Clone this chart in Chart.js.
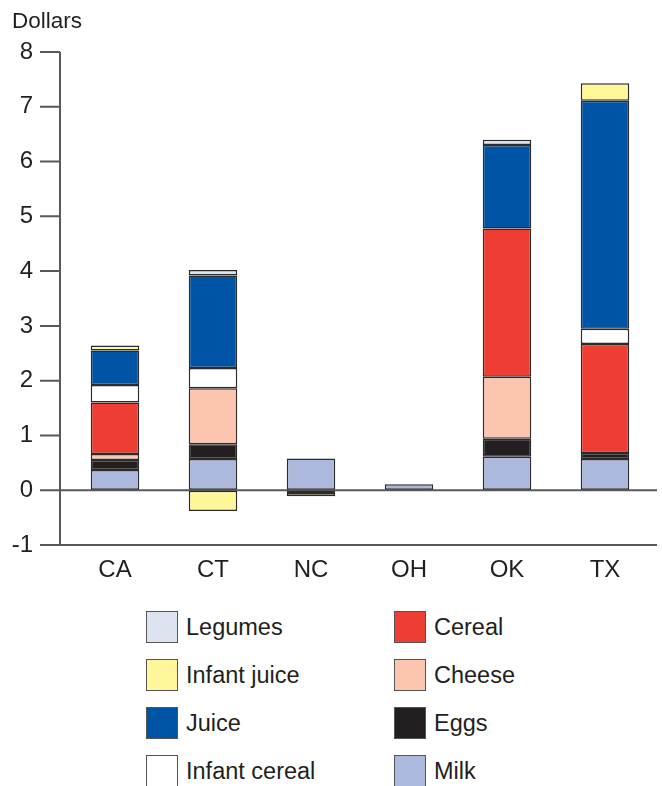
<!DOCTYPE html>
<html>
<head>
<meta charset="utf-8">
<script src="https://cdn.jsdelivr.net/npm/chart.js@4"></script>
<style>
  body { margin: 0; background: #fff; font-family: "Liberation Sans", Arial, sans-serif; }
  #wrap { position: relative; width: 662px; height: 786px; overflow: hidden; }
  #chart { position: absolute; left: 0; top: 0; }
  .key { position: absolute; display: flex; align-items: center; font-size: 23.5px; color: #231f20; }
  .key i { display: inline-block; width: 30px; height: 30px; border: 1.5px solid #555; margin-right: 8px; }
</style>
</head>
<body>
<div id="wrap">
  <canvas id="chart" width="662" height="600"></canvas>
  <div id="legend"></div>
</div>
<script>
// values, dollars per state
const states = ['CA', 'CT', 'NC', 'OH', 'OK', 'TX'];
const milk = [0.37, 0.57, 0.58, 0.11, 0.61, 0.57];
const eggs = [0.18, 0.27, null, null, 0.33, 0.11];
const cheese = [0.11, 1.02, -0.05, null, 1.13, null];
const cereal = [0.94, null, null, null, 2.71, 1.99];
const infantCereal = [0.32, 0.37, null, null, null, 0.28];
const juice = [0.63, 1.69, null, null, 1.52, 4.16];
const infantJuice = [0.09, -0.38, -0.06, null, null, 0.32];
const legumes = [null, 0.10, null, null, 0.10, null];
const yTicks = [-1, 0, 1, 2, 3, 4, 5, 6, 7, 8];

// bottom of the stack first
const series = [
    { label: 'Milk', data: milk, color: '#adb9dc' },
    { label: 'Eggs', data: eggs, color: '#231f20' },
    { label: 'Cheese', data: cheese, color: '#fcc5b0' },
    { label: 'Cereal', data: cereal, color: '#ee3e33' },
    { label: 'Infant cereal', data: infantCereal, color: '#ffffff' },
    { label: 'Juice', data: juice, color: '#0054a6' },
    { label: 'Infant juice', data: infantJuice, color: '#fff799' },
    { label: 'Legumes', data: legumes, color: '#dde3ef' }
];

const FONT = '"Liberation Sans", Arial, sans-serif';

const axesPlugin = {
    id: 'axes',
    beforeDatasetsDraw(chart) {
        const ctx = chart.ctx;
        const y = chart.scales.y;
        const left = 60, right = 657;
        ctx.save();
        ctx.strokeStyle = '#58595b';
        ctx.lineWidth = 2;
        ctx.beginPath();
        ctx.moveTo(left, y.getPixelForValue(8));
        ctx.lineTo(left, y.getPixelForValue(-1));
        ctx.lineTo(right, y.getPixelForValue(-1));
        ctx.moveTo(left, y.getPixelForValue(0));
        ctx.lineTo(right, y.getPixelForValue(0));
        yTicks.forEach(v => {
            const py = y.getPixelForValue(v);
            ctx.moveTo(40, py);
            ctx.lineTo(left, py);
        });
        ctx.stroke();
        ctx.fillStyle = '#231f20';
        ctx.font = '22.5px ' + FONT;
        ctx.textBaseline = 'alphabetic';
        ctx.fillText('Dollars', 12, 28);
        ctx.restore();
    }
};

new Chart(document.getElementById('chart'), {
    type: 'bar',
    data: {
        labels: states,
        datasets: series.map(s => ({
            label: s.label,
            data: s.data,
            backgroundColor: s.color,
            borderColor: '#2b2b2b',
            borderWidth: 1.5,
            borderSkipped: false,
            categoryPercentage: 1,
            barPercentage: 0.495
        }))
    },
    options: {
        responsive: false,
        animation: false,
        layout: { padding: { top: 52, right: 8, left: 0, bottom: 0 } },
        plugins: { legend: { display: false }, tooltip: { enabled: false } },
        scales: {
            x: {
                stacked: true,
                grid: { display: false },
                border: { display: false },
                ticks: { color: '#231f20', font: { family: FONT, size: 24 }, padding: 3 },
                afterFit(scale) { scale.height = 55; }
            },
            y: {
                stacked: true,
                min: -1,
                max: 8,
                afterBuildTicks(scale) { scale.ticks = yTicks.map(v => ({ value: v })); },
                grid: { color: 'transparent', tickLength: 27 },
                border: { display: false },
                ticks: { color: '#231f20', font: { family: FONT, size: 24 }, padding: 6 },
                afterFit(scale) { scale.width = 66; }
            }
        }
    },
    plugins: [axesPlugin]
});

// two-column key, same order as the reference
const legendCols = [
    ['Legumes', 'Infant juice', 'Juice', 'Infant cereal'],
    ['Cereal', 'Cheese', 'Eggs', 'Milk']
];
const legendEl = document.getElementById('legend');
legendCols.forEach((col, ci) => {
    col.forEach((name, ri) => {
        const s = series.find(d => d.label === name);
        const div = document.createElement('div');
        div.className = 'key';
        div.style.left = (146 + ci * 248) + 'px';
        div.style.top = (611 + ri * 48) + 'px';
        div.innerHTML = '<i style="background:' + s.color + '"></i>' + name;
        legendEl.appendChild(div);
    });
});
</script>
</body>
</html>
